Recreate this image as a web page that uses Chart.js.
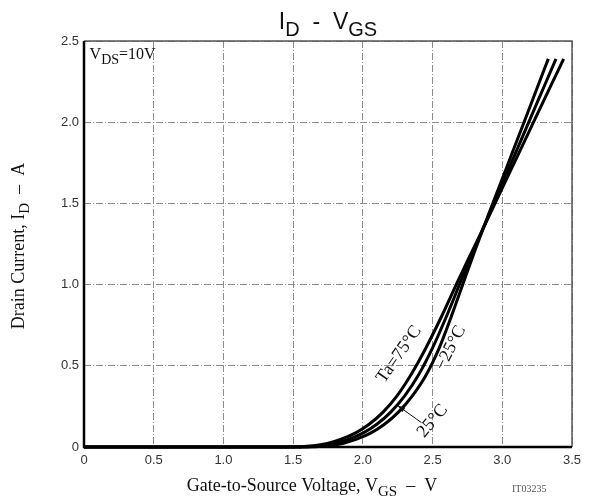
<!DOCTYPE html>
<html>
<head>
<meta charset="utf-8">
<script src="https://cdn.jsdelivr.net/npm/chart.js@4.4.1/dist/chart.umd.min.js"></script>
<style>
  html, body { margin: 0; padding: 0; background: #fff; }
</style>
</head>
<body>
<canvas id="chart" width="600" height="501"></canvas>
<script>
// ID - VGS curves
const idLevels = [0, 0, 0.008, 0.022, 0.048, 0.085, 0.14, 0.215, 0.315, 0.445, 0.61, 0.805, 1.015, 1.22, 1.42, 1.62, 1.82, 2.02, 2.22, 2.39];

const vgs75  = [0, 1.445, 1.645, 1.745, 1.845, 1.945, 2.045, 2.145, 2.245, 2.345, 2.452, 2.565, 2.678, 2.792, 2.904, 3.014, 3.125, 3.235, 3.346, 3.44];
const vgs25  = [0, 1.5, 1.7, 1.8, 1.9, 2.0, 2.1, 2.2, 2.3, 2.4, 2.5, 2.6, 2.7, 2.8, 2.9, 3.0, 3.1, 3.2, 3.3, 3.385];
const vgsM25 = [0, 1.555, 1.755, 1.855, 1.955, 2.055, 2.155, 2.255, 2.355, 2.455, 2.548, 2.635, 2.722, 2.808, 2.896, 2.986, 3.075, 3.165, 3.254, 3.33];

const xTicks = [0, 0.5, 1.0, 1.5, 2.0, 2.5, 3.0, 3.5];
const yTicks = [0, 0.5, 1.0, 1.5, 2.0, 2.5];

function pts(xs, ys) {
  return xs.map((x, i) => ({ x: x, y: ys[i] }));
}

function tickText(v) {
  return v === 0 ? '0' : v.toFixed(1);
}

// draws text with subscript parts: [[text, sub], ...]
function drawParts(ctx, parts, x, y, size, family, align) {
  const subSize = Math.round(size * 0.85);
  let w = 0;
  parts.forEach(p => {
    ctx.font = (p[1] ? subSize : size) + 'px ' + family;
    w += ctx.measureText(p[0]).width;
  });
  let cx = align === 'center' ? x - w / 2 : x;
  ctx.textAlign = 'left';
  ctx.textBaseline = 'alphabetic';
  parts.forEach(p => {
    ctx.font = (p[1] ? subSize : size) + 'px ' + family;
    ctx.fillText(p[0], cx, y + (p[1] ? size * 0.3 : 0));
    cx += ctx.measureText(p[0]).width;
  });
}

const serif = '"Liberation Serif", "DejaVu Serif", serif';
const sans = '"Liberation Sans", Arial, sans-serif';

const textPlugin = {
  id: 'texts',
  afterDraw(chart) {
    const ctx = chart.ctx;
    const xs = chart.scales.x, ys = chart.scales.y;
    const a = chart.chartArea;
    ctx.save();

    // frame
    ctx.strokeStyle = '#555';
    ctx.lineWidth = 1.5;
    ctx.beginPath();
    ctx.moveTo(a.left, a.top);
    ctx.lineTo(a.right, a.top);
    ctx.lineTo(a.right, a.bottom);
    ctx.stroke();
    ctx.strokeStyle = '#000';
    ctx.lineWidth = 2.5;
    ctx.beginPath();
    ctx.moveTo(a.left, a.top);
    ctx.lineTo(a.left, a.bottom);
    ctx.lineTo(a.right, a.bottom);
    ctx.stroke();

    ctx.fillStyle = '#111';
    // title
    drawParts(ctx, [['I', false], ['D', true], ['  -  ', false], ['V', false], ['GS', true]],
      (a.left + a.right) / 2, 29, 23, sans, 'center');

    // axis titles
    drawParts(ctx, [['Gate-to-Source Voltage, V', false], ['GS', true], ['  \u2013  V', false]],
      312, 491, 18, serif, 'center');
    ctx.save();
    ctx.translate(24, 246);
    ctx.rotate(-Math.PI / 2);
    drawParts(ctx, [['Drain Current, I', false], ['D', true], ['  \u2013  A', false]],
      0, 0, 18, serif, 'center');
    ctx.restore();

    ctx.fillStyle = '#555';
    ctx.font = '10px ' + serif;
    ctx.textAlign = 'left';
    ctx.fillText('IT03235', 512, 492);

    // VDS condition
    ctx.fillStyle = '#111';
    drawParts(ctx, [['V', false], ['DS', true], ['=10V', false]],
      xs.getPixelForValue(0.04), ys.getPixelForValue(2.39), 16, serif, 'left');

    // curve labels
    function rotLabel(txt, vx, vy, deg) {
      ctx.save();
      ctx.translate(xs.getPixelForValue(vx), ys.getPixelForValue(vy));
      ctx.rotate(deg * Math.PI / 180);
      ctx.font = '18px ' + serif;
      ctx.textAlign = 'center';
      ctx.textBaseline = 'middle';
      ctx.fillText(txt, 0, 0);
      ctx.restore();
    }
    rotLabel('Ta=75\u00B0C', 2.26, 0.57, -55);
    rotLabel('\u221225\u00B0C', 2.63, 0.61, -63);
    rotLabel('25\u00B0C', 2.5, 0.16, -50);

    // arrow to 25C curve
    const tx = xs.getPixelForValue(2.25), ty = ys.getPixelForValue(0.255);
    const sx = xs.getPixelForValue(2.42), sy = ys.getPixelForValue(0.15);
    ctx.strokeStyle = '#111';
    ctx.lineWidth = 1;
    ctx.beginPath();
    ctx.moveTo(sx, sy);
    ctx.lineTo(tx, ty);
    ctx.stroke();
    const ang = Math.atan2(ty - sy, tx - sx);
    ctx.beginPath();
    ctx.moveTo(tx, ty);
    ctx.lineTo(tx - 8 * Math.cos(ang - 0.35), ty - 8 * Math.sin(ang - 0.35));
    ctx.lineTo(tx - 8 * Math.cos(ang + 0.35), ty - 8 * Math.sin(ang + 0.35));
    ctx.closePath();
    ctx.fill();

    ctx.restore();
  }
};

const line = {
  showLine: true,
  borderColor: '#000',
  borderWidth: 3,
  pointRadius: 0,
  cubicInterpolationMode: 'monotone',
  clip: false
};

const ctx = document.querySelector('#chart').getContext('2d');

new Chart(ctx, {
  type: 'scatter',
  data: {
    datasets: [
      Object.assign({ label: 'Ta=75°C', data: pts(vgs75, idLevels) }, line),
      Object.assign({ label: '25°C', data: pts(vgs25, idLevels) }, line),
      Object.assign({ label: '-25°C', data: pts(vgsM25, idLevels) }, line)
    ]
  },
  options: {
    responsive: false,
    animation: false,
    layout: { padding: { top: 41, right: 28, left: 0, bottom: 0 } },
    scales: {
      x: {
        type: 'linear',
        min: 0,
        max: 3.5,
        afterBuildTicks: s => { s.ticks = xTicks.map(v => ({ value: v })); },
        afterFit: s => { s.height = 54; },
        ticks: {
          callback: v => tickText(v),
          color: '#333',
          font: { family: sans, size: 13 },
          padding: 6,
          maxRotation: 0
        },
        grid: { color: '#8c8c8c', lineWidth: 1, drawTicks: false },
        border: { display: false, dash: [7, 2, 1, 2] }
      },
      y: {
        type: 'linear',
        min: 0,
        max: 2.5,
        afterBuildTicks: s => { s.ticks = yTicks.map(v => ({ value: v })); },
        afterFit: s => { s.width = 84; },
        ticks: {
          callback: v => tickText(v),
          color: '#333',
          font: { family: sans, size: 13 },
          padding: 5
        },
        grid: { color: '#8c8c8c', lineWidth: 1, drawTicks: false },
        border: { display: false, dash: [7, 2, 1, 2] }
      }
    },
    plugins: {
      legend: { display: false },
      tooltip: { enabled: false }
    }
  },
  plugins: [textPlugin]
});
</script>
</body>
</html>
